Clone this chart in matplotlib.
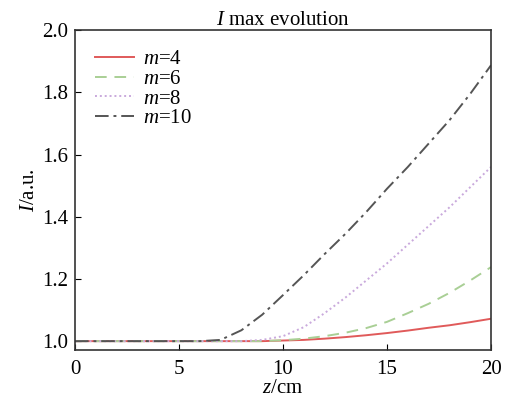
import numpy as np
import matplotlib.pyplot as plt

plt.rcParams['font.family'] = 'Liberation Serif'
plt.rcParams['mathtext.fontset'] = 'custom'
plt.rcParams['mathtext.rm'] = 'Liberation Serif'
plt.rcParams['mathtext.it'] = 'Liberation Serif:italic'

# data
z = np.arange(0, 21)
I_m4 = [1.0] * 10 + [1.002, 1.004, 1.008, 1.013, 1.019, 1.026, 1.034, 1.043, 1.051, 1.061, 1.072]
I_m6 = [1.0] * 10 + [1.003, 1.008, 1.016, 1.027, 1.042, 1.062, 1.090, 1.120, 1.155, 1.195, 1.238]
I_m8 = [1.0] * 9 + [1.004, 1.016, 1.045, 1.090, 1.140, 1.195, 1.250, 1.310, 1.370, 1.430, 1.495, 1.560]
I_m10 = [1.0] * 7 + [1.004, 1.035, 1.085, 1.148, 1.212, 1.280, 1.345, 1.415, 1.490, 1.560, 1.635, 1.710, 1.795, 1.887]

labels = ['$\\it{m}$=4', '$\\it{m}$=6', '$\\it{m}$=8', '$\\it{m}$=10']
series = [I_m4, I_m6, I_m8, I_m10]
colors = ['#e05a5a', '#a9cf95', '#c9a9dc', '#555555']
styles = ['-', (0, (6, 4)), (0, (1, 1.5)), (0, (7, 2.5, 1.5, 2.5))]

fig = plt.figure(figsize=(5.08, 4.01), dpi=100)
ax = fig.add_axes([0.1476, 0.126, 0.819, 0.799])

for y, lab, c, ls in zip(series, labels, colors, styles):
    ax.plot(z, y, color=c, linestyle=ls, linewidth=1.4, label=lab)

ax.set_xlim(0, 20)
ax.set_ylim(0.97, 2.0)
ax.set_xticks([0, 5, 10, 15, 20])
ax.set_yticks([1.0, 1.2, 1.4, 1.6, 1.8, 2.0])
ax.tick_params(axis='x', direction='in', labelsize=15, length=4, pad=7)
ax.tick_params(axis='y', direction='in', labelsize=15, length=4, pad=5)
for s in ax.spines.values():
    s.set_color('#333333')
    s.set_linewidth(1.2)

ax.set_xlabel('$\\it{z}$/cm', fontsize=15, labelpad=0)
ax.set_ylabel('$\\it{I}$/a.u.', fontsize=15, labelpad=2)
ax.set_title('$\\it{I}$ max evolution', fontsize=15, pad=2)
ax.legend(loc='upper left', frameon=False, fontsize=15, handlelength=1.9,
          handletextpad=0.4, labelspacing=0.0, borderaxespad=0.5,
          borderpad=0.45)

fig.savefig('out.png', dpi=100)
